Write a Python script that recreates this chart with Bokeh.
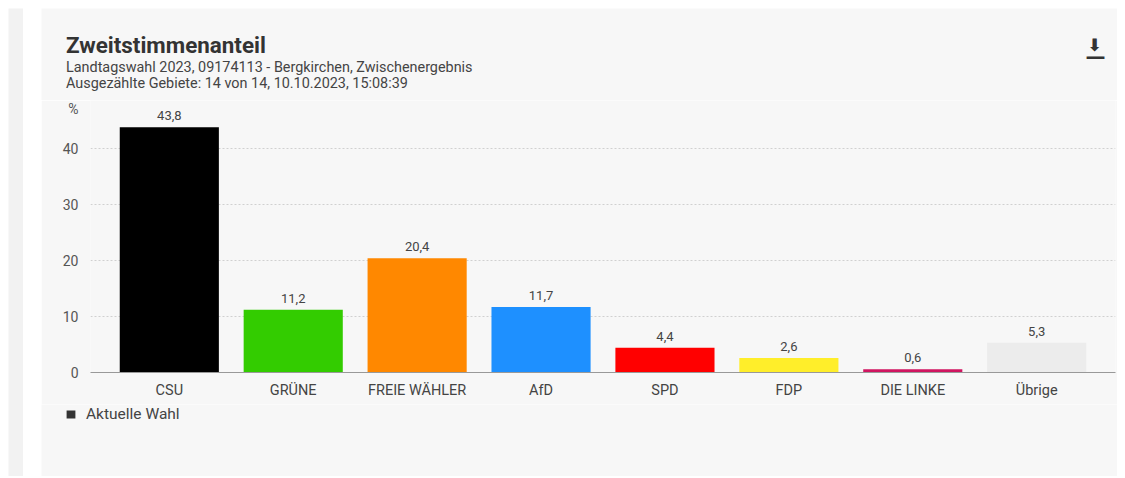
from bokeh.plotting import figure
from bokeh.models import (ColumnDataSource, FactorRange, Range1d, FixedTicker, Legend, LegendItem)
from bokeh.layouts import row, column
from bokeh.embed import file_html
from bokeh.resources import INLINE
from bokeh.core.properties import value

# ---- data ----
parties = ["CSU", "GRÜNE", "FREIE WÄHLER", "AfD", "SPD", "FDP", "DIE LINKE", "Übrige"]
shares = [43.8, 11.2, 20.4, 11.7, 4.4, 2.6, 0.6, 5.3]
colors = ["#000000", "#33cc00", "#ff8800", "#1e90ff", "#ff0000", "#ffee2a", "#d01560", "#ececec"]
y_ticks = [0, 10, 20, 30, 40]
y_unit_tick = 47.2
value_labels = [f"{v:.1f}".replace(".", ",") for v in shares]

title_text = "Zweitstimmenanteil"
subtitle1 = "Landtagswahl 2023, 09174113 - Bergkirchen, Zwischenergebnis"
subtitle2 = "Ausgezählte Gebiete: 14 von 14, 10.10.2023, 15:08:39"
legend_label = "Aktuelle Wahl"

FONT = "Roboto"
PANEL = "#f7f7f7"
W = 1076
H_HEAD, H_MAIN, H_FOOT = 92, 304, 72


def blank(width, height, fill, xr, yr):
    f = figure(width=width, height=height, output_backend="svg", toolbar_location=None,
               x_axis_type=None, y_axis_type=None, outline_line_color=None,
               background_fill_color=fill, border_fill_color=fill,
               x_range=xr, y_range=yr, min_border=0, frame_align=False)
    f.grid.visible = False
    return f


# ---- header: title, subtitles, download icon ----
head = blank(W, H_HEAD, PANEL, Range1d(0, W), Range1d(H_HEAD, 0))
head.text(x=[24.5], y=[36.2], text=[title_text], text_baseline="alphabetic",
          text_font=value(FONT), text_font_size="22.4px", text_font_style="bold",
          text_color="#333333")
head.text(x=[24.5, 24.5], y=[59, 75], text=[subtitle1, subtitle2], text_baseline="alphabetic",
          text_font=value(FONT), text_font_size="14.4px", text_color="#444444")
head.text(x=[1053], y=[36.5], text=["⬇"], text_align="center", text_baseline="middle",
          text_font=value("DejaVu Sans"), text_font_size="17px", text_font_style="bold",
          text_color="#333333")
head.text(x=[1054], y=[47.5], text=["—"], text_align="center", text_baseline="middle",
          text_font=value("DejaVu Sans"), text_font_size="20px", text_font_style="bold",
          text_color="#333333")

# ---- main chart ----
src = ColumnDataSource(dict(party=parties, share=shares, color=colors, label=value_labels))

p = figure(
    x_range=FactorRange(factors=parties, range_padding=0.034, range_padding_units="percent"),
    y_range=Range1d(0, 272 / 5.6),
    width=W, height=H_MAIN,
    output_backend="svg", toolbar_location=None,
    background_fill_color=PANEL, border_fill_color=PANEL,
    outline_line_color=None, frame_align=False,
    min_border_left=49, min_border_right=2, min_border_top=0, min_border_bottom=32,
)

p.vbar(x="party", top="share", width=0.8, source=src, fill_color="color", line_color=None)
p.text(x="party", y="share", text="label", source=src, y_offset=-7,
       text_align="center", text_baseline="bottom",
       text_font=value(FONT), text_font_size="13px", text_color="#444444")

p.xaxis.axis_line_color = "#999999"
p.xaxis.axis_line_width = 1
p.xaxis.major_tick_line_color = None
p.xaxis.minor_tick_line_color = None
p.xaxis.major_tick_out = 0
p.xaxis.major_tick_in = 0
p.xaxis.major_label_standoff = 9
p.xaxis.major_label_text_font = FONT
p.xaxis.major_label_text_font_size = "14.5px"
p.xaxis.major_label_text_color = "#444444"

p.yaxis.ticker = FixedTicker(ticks=y_ticks + [y_unit_tick])
p.yaxis.major_label_overrides = {y_unit_tick: "%"}
p.yaxis.axis_line_color = None
p.yaxis.major_tick_line_color = None
p.yaxis.minor_tick_line_color = None
p.yaxis.major_tick_out = 0
p.yaxis.major_tick_in = 0
p.yaxis.major_label_standoff = 12
p.yaxis.major_label_text_font = FONT
p.yaxis.major_label_text_font_size = "14px"
p.yaxis.major_label_text_color = "#555555"

p.xgrid.grid_line_color = None
p.ygrid.ticker = FixedTicker(ticks=y_ticks[1:])
p.ygrid.grid_line_color = "#d0d0d0"
p.ygrid.grid_line_dash = "2 2"
p.ygrid.grid_line_width = 1

# ---- footer with legend ----
foot = blank(W, H_FOOT, PANEL, Range1d(0, 1), Range1d(0, 1))
# legend swatch renderer: its single bar lies outside the visible range
swatch = foot.vbar(x=[5], top=[0.5], width=0.5, fill_color="#333333", line_color=None)
legend = Legend(items=[LegendItem(label=legend_label, renderers=[swatch])],
                location=(24, 53), orientation="horizontal",
                glyph_width=11, glyph_height=10, label_standoff=10,
                padding=0, margin=0, border_line_color=None, background_fill_alpha=0,
                label_text_font=FONT, label_text_font_size="15.5px", label_text_color="#444444")
foot.add_layout(legend)

# ---- left grey strip ----
strip = blank(15, H_HEAD + H_MAIN + H_FOOT, "#f2f2f2", Range1d(0, 1), Range1d(0, 1))

layout = row(strip, column(head, p, foot), spacing=18, margin=(8, 8, 8, 8))

open("out.html", "w").write(file_html(layout, INLINE))
